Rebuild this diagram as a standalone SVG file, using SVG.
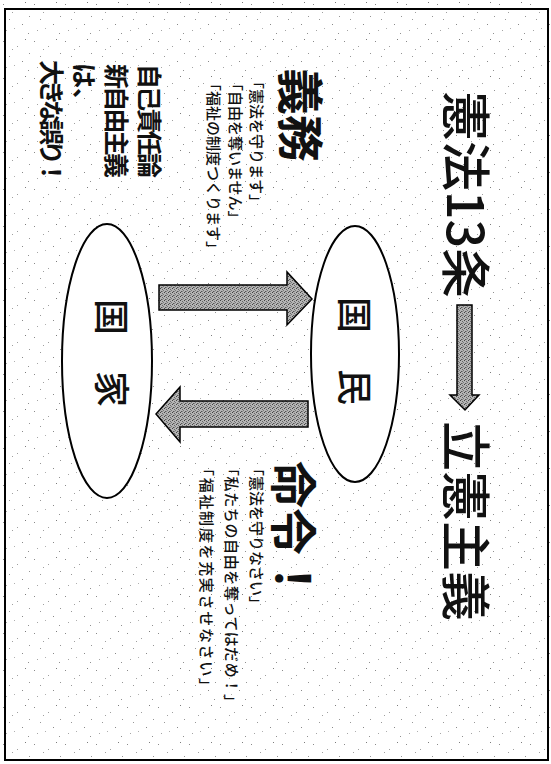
<svg xmlns="http://www.w3.org/2000/svg" width="551" height="764" viewBox="0 0 551 764">
  <defs>
    <pattern id="speck" width="31" height="37" patternUnits="userSpaceOnUse">
      <rect width="31" height="37" fill="#ffffff"/>
      <rect x="3" y="4" width="1" height="1" fill="#8a8a8a"/>
      <rect x="17" y="9" width="1" height="1" fill="#a0a0a0"/>
      <rect x="25" y="2" width="1" height="1" fill="#7c7c7c"/>
      <rect x="9" y="19" width="1" height="1" fill="#989898"/>
      <rect x="22" y="24" width="1" height="1" fill="#898989"/>
      <rect x="6" y="30" width="1" height="1" fill="#a5a5a5"/>
      <rect x="28" y="33" width="1" height="1" fill="#909090"/>
      <rect x="14" y="28" width="1" height="1" fill="#b0b0b0"/>
      <rect x="12" y="12" width="1" height="1" fill="#a0a0a0"/>
      <rect x="29" y="16" width="1" height="1" fill="#959595"/>
    </pattern>
    <pattern id="stipple" width="4" height="4" patternUnits="userSpaceOnUse">
      <rect width="4" height="4" fill="#b4b4b4"/>
      <rect x="0" y="0" width="1" height="1" fill="#444"/>
      <rect x="2" y="1" width="1" height="1" fill="#666"/>
      <rect x="1" y="3" width="1" height="1" fill="#555"/>
      <rect x="3" y="2" width="1" height="1" fill="#777"/>
      <rect x="2" y="3" width="1" height="1" fill="#888"/>
    </pattern>
    <style>
      .t { font-family: "Noto Sans CJK JP", "Noto Sans CJK SC", sans-serif; fill: #111; }
      .big { font-size: 50px; font-weight: 500; }
      .head { font-size: 47px; font-weight: 700; }
      .small { font-size: 15px; font-weight: 500; }
      .node { font-size: 36px; font-weight: 500; }
      .note { font-size: 25px; font-weight: 700; }
      .ell { fill: #ffffff; stroke: #000; stroke-width: 2; }
      .arr { fill: url(#stipple); stroke: #000; stroke-width: 1.5; stroke-linejoin: miter; }
    </style>
  </defs>

  <rect x="0" y="0" width="551" height="764" fill="url(#speck)"/>
  <rect x="5" y="9" width="543" height="751" fill="none" stroke="#000" stroke-width="2"/>

  <g id="title">
    <text class="t big" transform="translate(447,91) rotate(90)">憲法13条</text>
    <text class="t big" transform="translate(447,421) rotate(90)">立憲主義</text>
  </g>

  <g id="gimu">
    <text class="t head" transform="translate(283,68) rotate(90)">義務</text>
    <text class="t small" transform="translate(251,74) rotate(90)">「憲法を守ります」</text>
    <text class="t small" transform="translate(230,76) rotate(90)">「自由を奪いません」</text>
    <text class="t small" transform="translate(208,76) rotate(90)">「福祉の制度つくります」</text>
  </g>

  <g id="meirei">
    <text class="t head" transform="translate(276,461) rotate(90)">命令！</text>
    <text class="t small" transform="translate(251,461) rotate(90)">「憲法を守りなさい」</text>
    <text class="t small" transform="translate(226,461) rotate(90)" textLength="248" lengthAdjust="spacing">「私たちの自由を奪ってはだめ！」</text>
    <text class="t small" transform="translate(201,461) rotate(90)" textLength="232" lengthAdjust="spacing">「福祉制度を充実させなさい」</text>
  </g>

  <g id="kokumin">
    <ellipse class="ell" cx="355" cy="354" rx="44" ry="128"/>
    <text class="t node" transform="translate(341,297) rotate(90)">国　民</text>
  </g>

  <g id="kokka">
    <ellipse class="ell" cx="107" cy="361" rx="45" ry="137"/>
    <text class="t node" transform="translate(98,299) rotate(90)">国　家</text>
  </g>

  <g id="note">
    <text class="t note" transform="translate(140,64) rotate(90)" textLength="114" lengthAdjust="spacing">自己責任論</text>
    <text class="t note" transform="translate(107,64) rotate(90)" textLength="114" lengthAdjust="spacing">新自由主義</text>
    <text class="t note" transform="translate(75,63) rotate(90)">は、</text>
    <text class="t note" transform="translate(42,60) rotate(90)" textLength="125" lengthAdjust="spacing">大きな誤り！</text>
  </g>

  <g id="connectors">
    <polygon class="arr" points="457,305 472,305 472,395 479,395 465,410 450,395 457,395"/>
    <polygon class="arr" points="159,285 287,285 287,272 312,299 287,325 287,310 159,310"/>
    <polygon class="arr" points="308,401 180,401 180,387 156,414 180,442 180,427 308,427"/>
  </g>
</svg>
